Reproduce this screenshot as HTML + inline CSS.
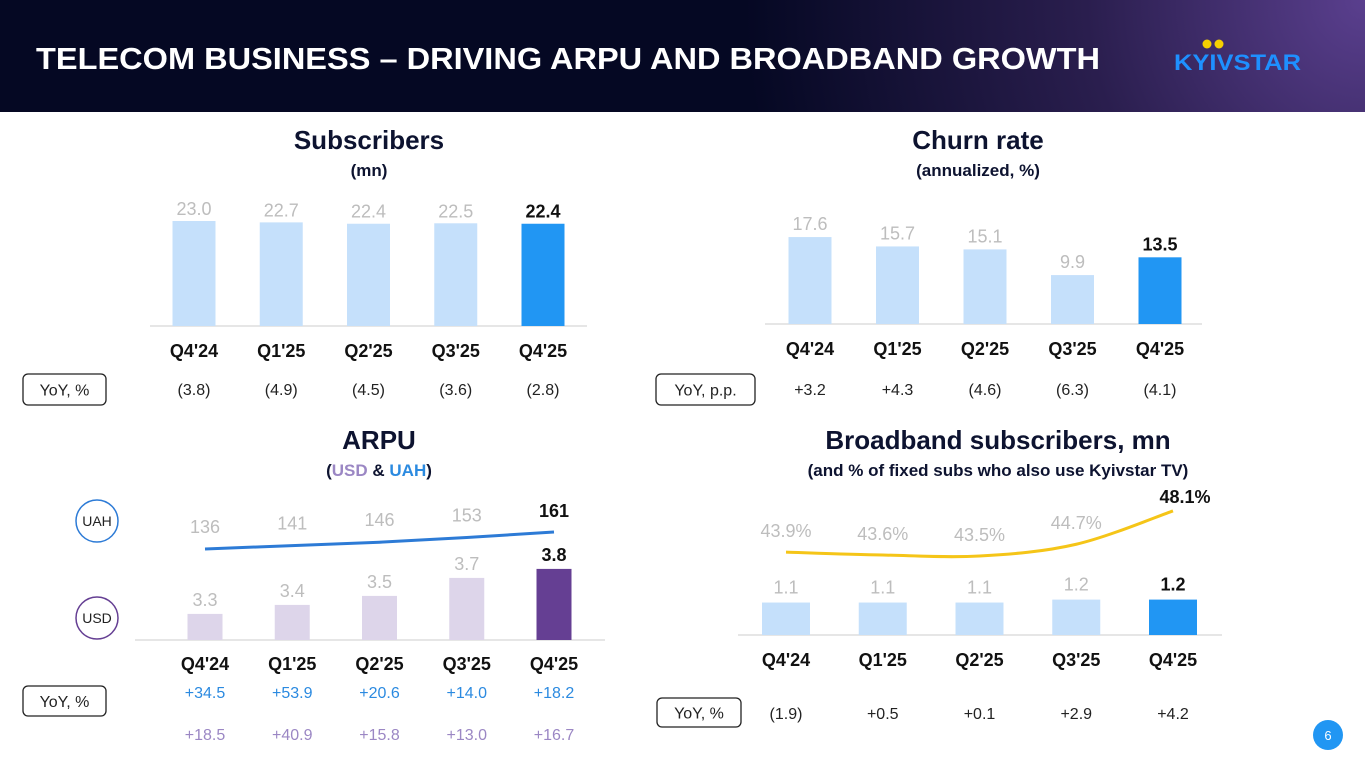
<!DOCTYPE html>
<html><head><meta charset="utf-8"><style>
html,body{margin:0;padding:0;width:1365px;height:768px;overflow:hidden;background:#fff;font-family:"Liberation Sans",sans-serif}
svg text{font-family:"Liberation Sans",sans-serif}
</style></head><body>
<svg id="s" width="1365" height="768" viewBox="0 0 1365 768" xmlns="http://www.w3.org/2000/svg">
<defs>
<radialGradient id="hg" cx="1365" cy="0" r="620" gradientUnits="userSpaceOnUse">
<stop offset="0" stop-color="#5a3f8e"/><stop offset="0.45" stop-color="#2a1e4e"/><stop offset="1" stop-color="#050823"/>
</radialGradient>
</defs>
<rect x="0" y="0" width="1365" height="112" fill="url(#hg)"/>
<text x="36" y="69" fill="#fff" font-size="31" font-weight="bold" textLength="1064" lengthAdjust="spacingAndGlyphs">TELECOM BUSINESS – DRIVING ARPU AND BROADBAND GROWTH</text>
<g>
<circle cx="1207" cy="44" r="4.5" fill="#f5d000"/><circle cx="1219" cy="44" r="4.5" fill="#f5d000"/>
<text x="1174" y="70" fill="#1e90ff" font-size="22" font-weight="bold" textLength="127" lengthAdjust="spacingAndGlyphs">KYIVSTAR</text>
</g>
<g id="charts"></g>
<circle cx="1328" cy="735" r="15" fill="#2196f3"/>
<text x="1328" y="740" fill="#fff" font-size="13" text-anchor="middle">6</text>
</svg>
<script>
const cats=["Q4'24","Q1'25","Q2'25","Q3'25","Q4'25"];
const subsValues=[23.0,22.7,22.4,22.5,22.4];
const subsYoY=["(3.8)","(4.9)","(4.5)","(3.6)","(2.8)"];
const churnValues=[17.6,15.7,15.1,9.9,13.5];
const churnYoY=["+3.2","+4.3","(4.6)","(6.3)","(4.1)"];
const arpuUsd=[3.3,3.4,3.5,3.7,3.8];
const arpuUah=[136,141,146,153,161];
const arpuUahYoY=["+34.5","+53.9","+20.6","+14.0","+18.2"];
const arpuUsdYoY=["+18.5","+40.9","+15.8","+13.0","+16.7"];
const bbValues=[1.1,1.1,1.1,1.2,1.2];
const bbTvShare=[43.9,43.6,43.5,44.7,48.1];
const bbYoY=["(1.9)","+0.5","+0.1","+2.9","+4.2"];

const NS="http://www.w3.org/2000/svg";
const G=document.getElementById('charts');
function mk(tag,attrs,parent){const e=document.createElementNS(NS,tag);for(const k in attrs)e.setAttribute(k,attrs[k]);(parent||G).appendChild(e);return e;}
function txt(x,y,s,size,fill,weight,anchor){const t=mk('text',{x:x,y:y,'font-size':size,fill:fill,'font-weight':weight||'normal','text-anchor':anchor||'middle'});t.textContent=s;return t;}
function xScale(x0,step){return i=>x0+i*step;}
function linScale(base,v0,ppu){return v=>base-(v-v0)*ppu;}
function smooth(pts){let d='M'+pts[0][0]+','+pts[0][1];for(let i=0;i<pts.length-1;i++){const p0=pts[Math.max(0,i-1)],p1=pts[i],p2=pts[i+1],p3=pts[Math.min(pts.length-1,i+2)];const c1=[p1[0]+(p2[0]-p0[0])/6,p1[1]+(p2[1]-p0[1])/6],c2=[p2[0]-(p3[0]-p1[0])/6,p2[1]-(p3[1]-p1[1])/6];d+=' C'+c1[0]+','+c1[1]+' '+c2[0]+','+c2[1]+' '+p2[0]+','+p2[1];}return d;}
function yoyBox(x,y,w,h,label){const b=mk('rect',{x:x,y:y,width:w,height:h,rx:5,fill:'#fff',stroke:'#222','stroke-width':1.3});


const t=txt(x+w/2,y+h/2+6,label,16,'#222');

}

function barChart(o){
 const X=xScale(o.x0,o.step),Y=o.y;
 const ln=mk('line',{x1:o.lx1,x2:o.lx2,y1:o.base,y2:o.base,stroke:'#e6e6e6','stroke-width':2});
 
 
 o.values.forEach((v,i)=>{const last=i===o.values.length-1;const y=Y(v);
  const r=mk('rect',{x:X(i)-o.bw/2,y:y,width:o.bw,height:o.base-y,fill:last?o.hi:o.lo});
  
  
  const t=txt(X(i),y-o.lblOff,v.toFixed(1),18,last?'#111':'#bdbdbd',last?'bold':'normal');
  
  
  const c=txt(X(i),o.catY,cats[i],18,'#111','bold');
  
  
 });
 return X;
}
function title(x,y,a,b,by){const t=txt(x,y,a,26,'#0d1330','bold');
 if(b){const s=txt(x,by,b,17,'#0d1330','bold');return s;}}
function yoyRow(X,y,arr,color,name){arr.forEach((s,i)=>{const t=txt(X(i),y,s,16,color);});}

// Subscribers
title(369,149,'Subscribers','(mn)',176);
let X1=barChart({name:'subscribers',x0:194,step:87.25,bw:43,base:326,y:linScale(326,0,4.565),values:subsValues,lo:'#c5e0fb',hi:'#2196f3',lblOff:6,catY:357,lx1:150,lx2:587});
yoyBox(23,374,83,31,'YoY, %');yoyRow(X1,395,subsYoY,'#222','subscribers-yoy-value');

// Churn
title(978,149,'Churn rate','(annualized, %)',176);
let X2=barChart({name:'churn',x0:810,step:87.5,bw:43,base:324,y:linScale(324,0,4.94),values:churnValues,lo:'#c5e0fb',hi:'#2196f3',lblOff:7,catY:355,lx1:765,lx2:1202});
yoyBox(656,374,99,31,'YoY, p.p.');yoyRow(X2,395,churnYoY,'#222','churn-yoy-value');

// ARPU
const st=title(379,449,'ARPU','',0);
{const s=mk('text',{x:379,y:476,'font-size':17,'font-weight':'bold','text-anchor':'middle',fill:'#0d1330'});


s.innerHTML='(<tspan fill="#9b87c4">USD</tspan> &amp; <tspan fill="#2b8ae0">UAH</tspan>)';}
let X3=barChart({name:'arpu-usd',x0:205,step:87.25,bw:35,base:640,y:linScale(640,3.01,90),values:arpuUsd,lo:'#ddd5ea',hi:'#653f93',lblOff:8,catY:670,lx1:135,lx2:605});
{const Yu=linScale(549,136,0.68);const pts=arpuUah.map((v,i)=>[X3(i),Yu(v)]);
 const p=mk('path',{d:smooth(pts),fill:'none',stroke:'#2d7bd6','stroke-width':3});
 
 
 arpuUah.forEach((v,i)=>{const last=i===arpuUah.length-1;const t=txt(X3(i),Yu(v)-(last?15:16),String(v),18,last?'#111':'#bdbdbd',last?'bold':'normal');
 
 });}
{const c1=mk('circle',{cx:97,cy:521,r:21,fill:'#fff',stroke:'#2d7bd6','stroke-width':1.5});


const t1=txt(97,526,'UAH',14,'#222');


const c2=mk('circle',{cx:97,cy:618,r:21,fill:'#fff',stroke:'#653f93','stroke-width':1.5});


const t2=txt(97,623,'USD',14,'#222');

}
yoyBox(23,686,83,30,'YoY, %');
yoyRow(X3,698,arpuUahYoY,'#2b8ae0','arpu-uah-yoy-value');
yoyRow(X3,740,arpuUsdYoY,'#9b87c4','arpu-usd-yoy-value');

// Broadband
title(998,449,'Broadband subscribers, mn','(and % of fixed subs who also use Kyivstar TV)',476);
let X4=barChart({name:'broadband',x0:786,step:96.75,bw:48,base:635,y:linScale(635,0,29.5),values:bbValues,lo:'#c5e0fb',hi:'#2196f3',lblOff:9,catY:666,lx1:738,lx2:1222});
{const Yp=linScale(556,43.5,9.8);const pts=bbTvShare.map((v,i)=>[X4(i),Yp(v)]);
 const p=mk('path',{d:smooth(pts),fill:'none',stroke:'#f5c518','stroke-width':3});
 
 
 bbTvShare.forEach((v,i)=>{const last=i===bbTvShare.length-1;const t=txt(X4(i)+(last?12:0),Yp(v)-(last?8:15),v.toFixed(1)+'%',18,last?'#111':'#bdbdbd',last?'bold':'normal');
 
 });}
yoyBox(657,698,84,29,'YoY, %');yoyRow(X4,719,bbYoY,'#222','broadband-yoy-value');
</script>
</body></html>
